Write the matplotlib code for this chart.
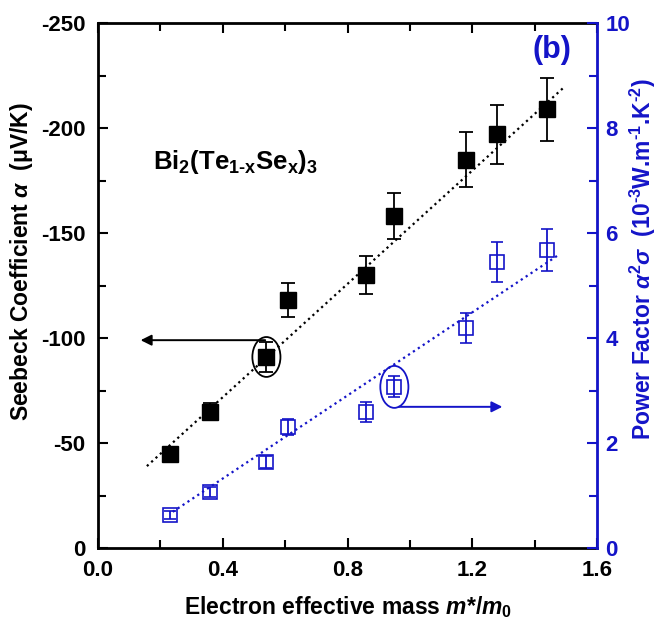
import matplotlib.pyplot as plt
from matplotlib.patches import Ellipse
from matplotlib.ticker import MultipleLocator

plt.rcParams['font.family'] = ['Liberation Sans', 'DejaVu Sans']
plt.rcParams['font.weight'] = 'bold'
plt.rcParams['axes.unicode_minus'] = False
plt.rcParams['mathtext.fontset'] = 'custom'
plt.rcParams['mathtext.rm'] = 'Liberation Sans:bold'
plt.rcParams['mathtext.it'] = 'Liberation Sans:italic:bold'
plt.rcParams['mathtext.bf'] = 'Liberation Sans:bold'

BLUE = '#1414c8'

# Seebeck coefficient (left axis)
mass = [0.23, 0.36, 0.54, 0.61, 0.86, 0.95, 1.18, 1.28, 1.44]
seebeck = [-45, -65, -91, -118, -130, -158, -185, -197, -209]
seebeck_err = [0, 4, 7, 8, 9, 11, 13, 14, 15]

# Power factor (right axis)
mass_pf = [0.23, 0.36, 0.54, 0.61, 0.86, 0.95, 1.18, 1.28, 1.44]
power = [0.63, 1.07, 1.64, 2.30, 2.59, 3.07, 4.19, 5.45, 5.68]
power_err = [0.08, 0.1, 0.12, 0.15, 0.19, 0.2, 0.29, 0.38, 0.4]

# dotted guide lines (end points)
fit_seebeck_x = [0.157, 1.49]
fit_seebeck_y = [-39, -219]
fit_power_x = [0.24, 1.475]
fit_power_y = [0.69, 5.58]

fig = plt.figure(figsize=(6.57, 6.27), dpi=100)
ax = fig.add_axes([0.149, 0.126, 0.76, 0.837])
ax2 = ax.twinx()

# left axis data
ax.plot(fit_seebeck_x, fit_seebeck_y, ':', color='k', lw=1.6)
ax.errorbar(mass, seebeck, yerr=seebeck_err, fmt='s', color='k', ms=11,
            ecolor='k', elinewidth=1.3, capsize=5, capthick=1.3)

# right axis data
ax2.plot(fit_power_x, fit_power_y, ':', color=BLUE, lw=1.6)
ax2.errorbar(mass_pf, power, yerr=power_err, fmt='s', color=BLUE, ms=10,
             mfc='none', mec=BLUE, mew=1.2, ecolor=BLUE, elinewidth=1.3,
             capsize=4, capthick=1.3)

# circles + arrows
ax.add_patch(Ellipse((mass[2], seebeck[2]), 0.09, 19, fill=False, ec='k', lw=1.3))
ax.annotate('', xy=(0.128, -99), xytext=(0.545, -99),
            arrowprops=dict(arrowstyle='-|>', color='k', lw=1.4, mutation_scale=16))
ax2.add_patch(Ellipse((mass_pf[5], power[5]), 0.09, 0.8, fill=False, ec=BLUE, lw=1.3))
ax2.annotate('', xy=(1.305, 2.69), xytext=(0.955, 2.69),
             arrowprops=dict(arrowstyle='-|>', color=BLUE, lw=1.4, mutation_scale=16))

# limits / ticks
ax.set_xlim(0, 1.6)
ax.set_ylim(0, -250)
ax2.set_ylim(0, 10)
ax.xaxis.set_major_locator(MultipleLocator(0.4))
ax.xaxis.set_minor_locator(MultipleLocator(0.2))
ax.yaxis.set_major_locator(MultipleLocator(50))
ax.yaxis.set_minor_locator(MultipleLocator(25))
ax2.yaxis.set_major_locator(MultipleLocator(2))
ax2.yaxis.set_minor_locator(MultipleLocator(1))
ax.xaxis.set_major_formatter(plt.FuncFormatter(lambda v, p: '%.1f' % v))

ax.tick_params(axis='x', which='both', direction='in', top=True, width=1.5, labelsize=16, pad=9)
ax.tick_params(axis='y', which='both', direction='in', right=False, width=1.5, labelsize=16, pad=9)
ax.tick_params(which='major', length=7)
ax.tick_params(which='minor', length=6)
ax2.tick_params(axis='y', which='both', direction='in', colors=BLUE, width=1.5, labelsize=16, pad=6)
ax2.tick_params(which='major', length=7)
ax2.tick_params(which='minor', length=6)

for s in ['left', 'bottom', 'top']:
    ax.spines[s].set_linewidth(2)
ax2.spines['right'].set_color(BLUE)
ax2.spines['right'].set_linewidth(2)
ax2.spines['left'].set_visible(False)
ax2.spines['top'].set_visible(False)
ax2.spines['bottom'].set_visible(False)

ax.set_xlabel('Electron effective mass $m$*/$m_0$', fontsize=16.5, fontweight='bold')
ax.xaxis.set_label_coords(0.5, -0.088)
ax.set_ylabel(r'Seebeck Coefficient $\alpha$  (μV/K)', fontsize=16.5, fontweight='bold')
ax.yaxis.set_label_coords(-0.126, 0.545)
ax2.set_ylabel(r'Power Factor $\alpha^2\sigma$  (10$^{\text{-}3}$W.m$^{\text{-}1}$.K$^{\text{-}2}$)',
               fontsize=16.5, fontweight='bold', color=BLUE)
ax2.yaxis.set_label_coords(1.062, 0.55)

ax.text(0.175, -184, r'Bi$_2$(Te$_{\text{1-x}}$Se$_{\text{x}}$)$_3$', fontsize=18.5,
        fontweight='bold', va='center', ha='left')
ax.text(1.455, -237, '(b)', fontsize=22, fontweight='bold', color=BLUE, ha='center', va='center')

fig.savefig('out.png', dpi=100)
